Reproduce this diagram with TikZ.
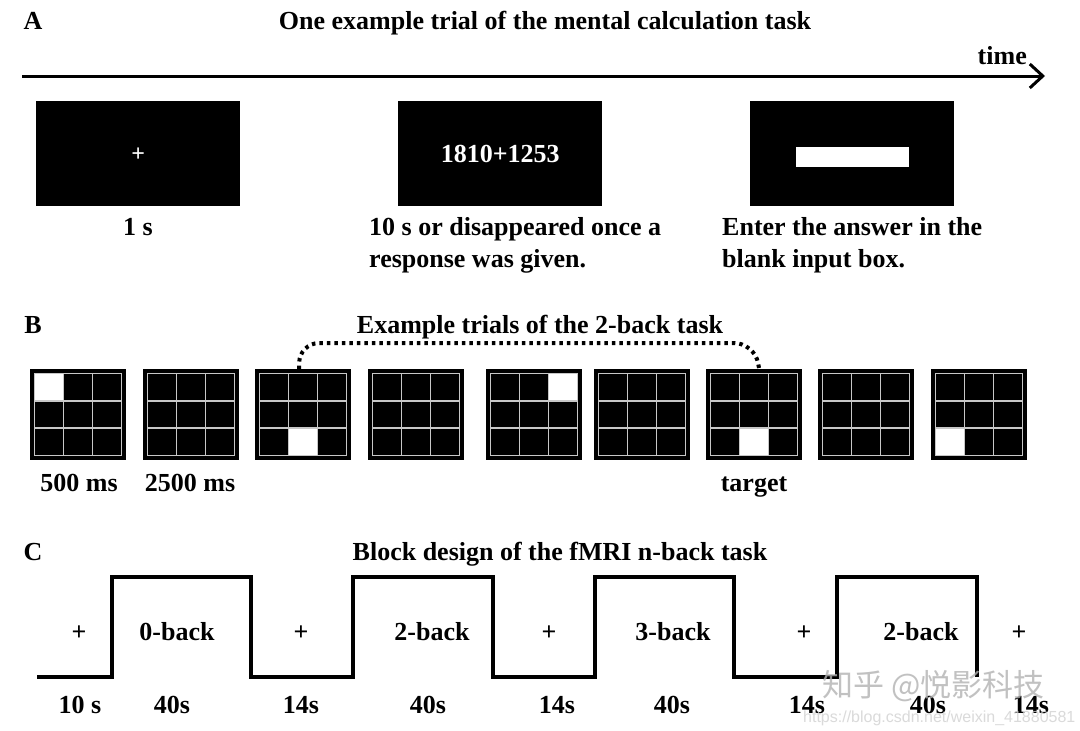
\documentclass[tikz,border=0pt]{standalone}
\usepackage{fontspec}
\setmainfont{Liberation Serif}
\newfontfamily\cjkfont{Noto Sans CJK SC}
\newfontfamily\wmfont{Liberation Sans}
\usetikzlibrary{arrows.meta,calc}
\begin{document}
\begin{tikzpicture}[x=1pt,y=-1pt,
  txt/.style={font=\fontsize{26}{32}\selectfont\bfseries, inner sep=0pt, text=black},
  screen/.style={fill=black, draw=none, minimum width=204pt, minimum height=105pt, inner sep=0pt, anchor=north west},
  gridbox/.style={fill=black, draw=none, minimum width=96pt, minimum height=91pt, inner sep=0pt, anchor=north west},
  gridline/.style={draw=black!22, line width=1.8pt},
  link/.style={line width=4pt, dash pattern=on 3.5pt off 4pt, rounded corners=20pt},
  wave/.style={line width=3.5pt, line join=miter},
  watermark/.style={inner sep=0pt, text=black!30, opacity=0.8},
]
\useasboundingbox[fill=white] (0,0) rectangle (1080,731);

% ---------------- Panel A ----------------
\node[txt, anchor=base] (labA) at (33,29) {A};
\node[txt, anchor=base] (titleA) at (545,29) {One example trial of the mental calculation task};
\coordinate (tstart) at (22,76);
\coordinate (tend) at (1045,76);
\draw[line width=3pt, -{Straight Barb[length=13pt,width=24pt,line width=3pt]}] (tstart) -- (tend);
\node[txt, anchor=base east] (time) at (1027,64) {time};

\node[screen] (s1) at (36,101) {};
\node[screen] (s2) at (398,101) {};
\node[screen] (s3) at (750,101) {};
\node[inner sep=0pt, text=white, font=\fontsize{24}{24}\selectfont\bfseries] (fix) at ($(s1.center)+(0,1)$) {+};
\node[txt, text=white, anchor=base] (sum) at ($(s2.center)+(0,9)$) {1810+1253};
\node[fill=white, minimum width=113pt, minimum height=20pt, inner sep=0pt] (inbox) at ($(s3.center)+(0,3.5)$) {};

\node[txt, anchor=base] (d1) at (138,235) {1 s};
\node[txt, anchor=base west] (d2a) at (369,235) {10 s or disappeared once a};
\node[txt, anchor=base west] (d2b) at (369,267) {response was given.};
\node[txt, anchor=base west] (d3a) at (722,235) {Enter the answer in the};
\node[txt, anchor=base west] (d3b) at (722,267) {blank input box.};

% ---------------- Panel B ----------------
\node[txt, anchor=base] (labB) at (33,333) {B};
\node[txt, anchor=base] (titleB) at (540,333) {Example trials of the 2-back task};

\foreach \i/\xx/\w in {0/30/1,1/143/0,2/255/8,3/368/0,4/486/3,5/594/0,6/706/8,7/818/0,8/931/7}{
  \begin{scope}[shift={(\xx,369)}]
    \node[gridbox] (g\i) at (0,0) {};
    \ifnum\w>0
      \pgfmathsetmacro\cc{int(mod(\w-1,3))}
      \pgfmathsetmacro\rr{int((\w-1)/3)}
      \fill[white] ({4.5+\cc*29},{4.5+\rr*27.333}) rectangle ++(29,27.333);
    \fi
    \draw[gridline] (4.5,4.5) rectangle (91.5,86.5);
    \draw[gridline] (33.5,4.5) -- (33.5,86.5) (62.5,4.5) -- (62.5,86.5)
                    (4.5,31.83) -- (91.5,31.83) (4.5,59.17) -- (91.5,59.17);
  \end{scope}
}
\draw[link] ($(g2.north)+(-4,0)$) |- ($(g6.north)+(0,-26)$) -- ($(g6.north)+(5,0)$);

\node[txt, anchor=base] (t500) at (79,491) {500 ms};
\node[txt, anchor=base] (t2500) at (190,491) {2500 ms};
\node[txt, anchor=base] (target) at (754,491) {target};

% ---------------- Panel C ----------------
\node[txt, anchor=base] (labC) at (33,560) {C};
\node[txt, anchor=base] (titleC) at (560,560) {Block design of the fMRI n-back task};

\draw[wave] (37,677) -- (112,677) -- (112,577) -- (251,577) -- (251,677)
  -- (353,677) -- (353,577) -- (493,577) -- (493,677)
  -- (595,677) -- (595,577) -- (734,577) -- (734,677)
  -- (837,677) -- (837,577) -- (977,577) -- (977,677);

\foreach \n/\xx/\t in {p1/79/+, b1/177/0-back, p2/301/+, b2/432/2-back, p3/549/+, b3/673/3-back, p4/804/+, b4/921/2-back, p5/1019/+}{
  \node[txt, anchor=base] (\n) at (\xx,640) {\t};
}
\foreach \n/\xx/\t in {u1/80/10 s, u2/172/40s, u3/301/14s, u4/428/40s, u5/557/14s, u6/672/40s, u7/807/14s, u8/928/40s, u9/1031/14s}{
  \node[txt, anchor=base] (\n) at (\xx,713) {\t};
}

% watermark
\node[watermark, font=\cjkfont\fontsize{31}{31}\selectfont, anchor=west] (wm1) at (822,686) {知乎 @悦影科技};
\node[watermark, font=\wmfont\fontsize{16}{16}\selectfont, anchor=west, text=black!18] (wm2) at (803,718) {https://blog.csdn.net/weixin\_41880581};
\end{tikzpicture}
\end{document}
